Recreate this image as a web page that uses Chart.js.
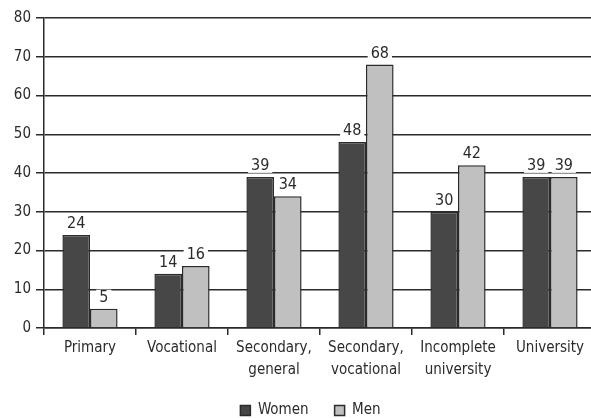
<!DOCTYPE html>
<html>
<head>
<meta charset="utf-8">
<script src="https://cdn.jsdelivr.net/npm/chart.js@4.4.0/dist/chart.umd.min.js"></script>
<style>
  html, body { margin: 0; padding: 0; background: #fff; overflow: hidden; }
  #wrap { position: relative; width: 596px; height: 418px; }
</style>
</head>
<body>
<div id="wrap"><canvas id="c"></canvas></div>
<script>
const categories = [
  'Primary',
  'Vocational',
  ['Secondary,', 'general'],
  ['Secondary,', 'vocational'],
  ['Incomplete', 'university'],
  'University'
];
const women = [24, 14, 39, 48, 30, 39];
const men = [5, 16, 34, 68, 42, 39];
const yTicks = [0, 10, 20, 30, 40, 50, 60, 70, 80];

const FONT = "'Liberation Sans Narrow', 'DejaVu Sans Condensed', 'Liberation Sans', sans-serif";
const INK = '#2b2b2b';

// value labels above each bar, on a white patch that hides the grid line behind them
const barLabels = {
  id: 'barLabels',
  afterDatasetsDraw(chart) {
    const ctx = chart.ctx;
    ctx.save();
    ctx.font = '16px ' + FONT;
    ctx.textAlign = 'center';
    ctx.textBaseline = 'bottom';
    chart.data.datasets.forEach((ds, di) => {
      chart.getDatasetMeta(di).data.forEach((bar, i) => {
        const txt = String(ds.data[i]);
        const w = ctx.measureText(txt).width + 6;
        const yb = bar.y - 4;
        ctx.fillStyle = '#fff';
        ctx.fillRect(bar.x - w / 2, yb - 15, w, 15);
        ctx.fillStyle = INK;
        ctx.fillText(txt, bar.x, yb + 1);
      });
    });
    ctx.restore();
  }
};

// compact legend block at the foot of the canvas, nudged right under the plot
const legendBox = {
  id: 'legendBox',
  beforeUpdate(chart) {
    const lg = chart.legend;
    if (lg && !lg._patched) {
      const fit = lg.fit;
      lg.fit = function () { fit.call(this); this.height = 34; };
      lg._patched = true;
    }
  },
  afterLayout(chart) {
    const lg = chart.legend;
    if (lg) {
      lg.left += 12.5; lg.right += 12.5;
      lg.top -= 7;
    }
  }
};

new Chart(document.getElementById('c'), {
  type: 'bar',
  data: {
    labels: categories,
    datasets: [
      { label: 'Women', data: women, backgroundColor: '#474747', borderColor: '#2b2b2b', borderWidth: 1.5,
        categoryPercentage: 0.6, barPercentage: 1.0 },
      { label: 'Men', data: men, backgroundColor: '#c0c0c0', borderColor: '#2b2b2b', borderWidth: 1.5,
        categoryPercentage: 0.6, barPercentage: 1.0 }
    ]
  },
  options: {
    responsive: true,
    maintainAspectRatio: false,
    animation: false,
    layout: { padding: { top: 18, right: 0, bottom: 0, left: 0 } },
    plugins: {
      tooltip: { enabled: false },
      legend: {
        position: 'bottom',
        labels: {
          font: { family: FONT, size: 15 },
          color: INK,
          boxWidth: 10,
          boxHeight: 10,
          padding: 26,
          useBorderRadius: false
        }
      }
    },
    scales: {
      x: {
        offset: true,
        grid: { display: true, drawOnChartArea: false, drawTicks: true, tickLength: 7, color: INK, lineWidth: 1.5, offset: true },
        border: { display: true, color: INK, width: 1.5 },
        ticks: { font: { family: FONT, size: 15, lineHeight: 1.45 }, color: INK, padding: 2, maxRotation: 0, autoSkip: false },
        afterFit(s) { s.height = 56; }
      },
      y: {
        min: 0,
        max: 80,
        afterBuildTicks(s) { s.ticks = yTicks.map(v => ({ value: v })); },
        grid: { color: INK, lineWidth: 1.5, tickLength: 8 },
        border: { display: true, color: INK, width: 1.5 },
        ticks: { font: { family: FONT, size: 15 }, color: INK, padding: 5 },
        afterFit(s) { s.width = 44; }
      }
    }
  },
  plugins: [barLabels, legendBox]
});
</script>
</body>
</html>
